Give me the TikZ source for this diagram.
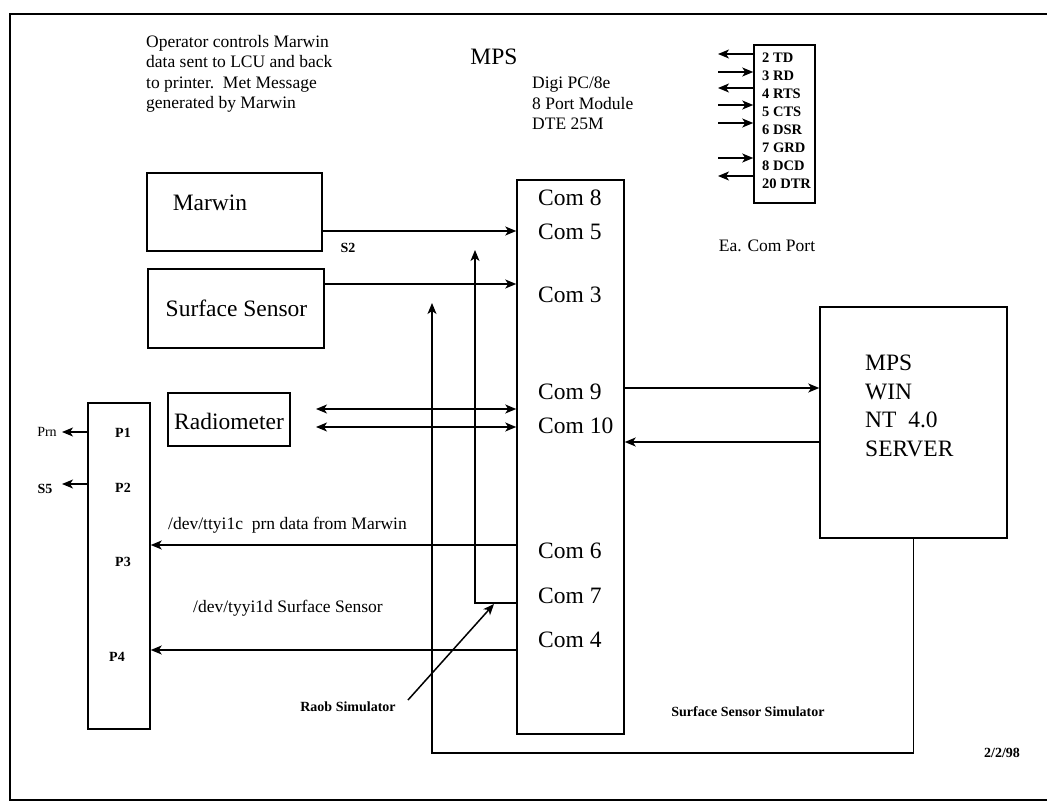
\documentclass[tikz,border=0pt]{standalone}
\usepackage{fontspec}
\setmainfont{Liberation Serif}
\usetikzlibrary{arrows.meta}
\begin{document}
\begin{tikzpicture}[x=1pt,y=-1pt,
  boxx/.style={draw, line width=1.5pt, inner sep=0pt},
  arr/.style={line width=1.5pt, -{Stealth[length=11pt,width=9pt,inset=3pt]}},
  darr/.style={line width=1.5pt, {Stealth[length=11pt,width=9pt,inset=3pt]}-{Stealth[length=11pt,width=9pt,inset=3pt]}},
  line/.style={line width=1.5pt},
  big/.style={font=\fontsize{23.5}{28.5}\selectfont, inner sep=0pt},
  med/.style={font=\fontsize{17.5}{20.5}\selectfont, inner sep=0pt},
  sml/.style={font=\bfseries\fontsize{14}{17}\selectfont, inner sep=0pt},
  pin/.style={font=\bfseries\fontsize{14.5}{18}\selectfont, inner sep=0pt, anchor=west}]
\useasboundingbox (0,0) rectangle (1047,803);
% frame
\coordinate (ftr) at (1047,14);
\coordinate (ftl) at (10,14);
\coordinate (fbl) at (10,800);
\coordinate (fbr) at (1047,800);
\draw[line width=1.8pt] (ftr) -- (ftl) -- (fbl) -- (fbr);

% top notes
\node[med, anchor=north west, align=left] (note) at (146,35) {Operator controls Marwin\\data sent to LCU and back\\to printer.\ \ Met Message\\generated by Marwin};
\node[big] (mpstitle) at (494,57) {MPS};
\node[med, anchor=north west, align=left] (digi) at (532,77) {Digi PC/8e\\8 Port Module\\DTE 25M};

% pin box
\node[boxx, minimum width=61pt, minimum height=158pt] (pinbox) at (784.5,124) {};
\node[pin] (p2) at (762,58) {2 TD};
\node[pin] (p3) at (762,76) {3 RD};
\node[pin] (p4) at (762,94) {4 RTS};
\node[pin] (p5) at (762,112) {5 CTS};
\node[pin] (p6) at (762,130) {6 DSR};
\node[pin] (p7) at (762,148) {7 GRD};
\node[pin] (p8) at (762,166) {8 DCD};
\node[pin] (p20) at (762,184) {20 DTR};
\coordinate (pa2) at (718,54);
\coordinate (pa3) at (718,72);
\coordinate (pa4) at (718,88);
\coordinate (pa5) at (718,105);
\coordinate (pa6) at (718,123);
\coordinate (pa8) at (718,158);
\coordinate (pa20) at (718,176);
\draw[arr] (pinbox.west |- pa2) -- (pa2);
\draw[arr] (pa3) -- (pinbox.west |- pa3);
\draw[arr] (pinbox.west |- pa4) -- (pa4);
\draw[arr] (pa5) -- (pinbox.west |- pa5);
\draw[arr] (pa6) -- (pinbox.west |- pa6);
\draw[arr] (pa8) -- (pinbox.west |- pa8);
\draw[arr] (pinbox.west |- pa20) -- (pa20);
\node[med] (eacom) at (767,246) {Ea. Com Port};

% left boxes
\node[boxx, minimum width=175pt, minimum height=78pt] (marwin) at (234.5,212) {};
\node[big] (marwintxt) at (210,203) {Marwin};
\node[boxx, minimum width=176pt, minimum height=79pt] (surf) at (236,308.5) {};
\node[big] (surftxt) at (236.5,308) {Surface Sensor};
\node[boxx, minimum width=122pt, minimum height=53pt] (radio) at (229,419.5) {};
\node[big] (radiotxt) at (229,421) {Radiometer};

% LCU panel
\node[boxx, minimum width=62pt, minimum height=326pt] (panel) at (119,566) {};
\node[sml] (P1) at (123,433) {P1};
\node[sml] (P2) at (123,488) {P2};
\node[sml] (P3) at (123,562) {P3};
\node[sml] (P4) at (117,657) {P4};
\node[sml, font=\fontsize{14}{17}\selectfont] (prn) at (47,432) {Prn};
\node[sml] (s5) at (45,489) {S5};
\coordinate (prntip) at (62,432);
\coordinate (s5tip) at (62,484);
\draw[arr] (panel.west |- prntip) -- (prntip);
\draw[arr] (panel.west |- s5tip) -- (s5tip);

% Com box
\node[boxx, minimum width=107pt, minimum height=554pt] (com) at (570.5,457) {};
\node[big, anchor=west] (c8) at (538,198) {Com 8};
\node[big, anchor=west] (c5) at (538,232) {Com 5};
\node[big, anchor=west] (c3) at (538,295) {Com 3};
\node[big, anchor=west] (c9) at (538,392) {Com 9};
\node[big, anchor=west] (c10) at (538,426) {Com 10};
\node[big, anchor=west] (c6) at (538,551) {Com 6};
\node[big, anchor=west] (c7) at (538,596) {Com 7};
\node[big, anchor=west] (c4) at (538,640) {Com 4};

% server
\node[boxx, minimum width=187pt, minimum height=231pt] (server) at (913.5,422.5) {};
\node[big, anchor=west, align=left] (servertxt) at (865,406) {MPS\\WIN\\NT\ \ 4.0\\SERVER};

% connectors
\coordinate (ym) at (0,231);
\coordinate (ys) at (0,284);
\draw[arr] (marwin.east |- ym) -- (com.west |- ym);
\node[sml] (s2) at (348,248) {S2};
\draw[arr] (surf.east |- ys) -- (com.west |- ys);

\coordinate (r1) at (316,409);
\coordinate (r2) at (316,427);
\draw[darr] (r1) -- (com.west |- r1);
\draw[darr] (r2) -- (com.west |- r2);

\coordinate (y9) at (0,388);
\coordinate (y10) at (0,442);
\draw[arr] (com.east |- y9) -- (server.west |- y9);
\draw[arr] (server.west |- y10) -- (com.east |- y10);

\coordinate (y6) at (0,545);
\coordinate (y4) at (0,650);
\draw[arr] (com.west |- y6) -- (panel.east |- y6);
\draw[arr] (com.west |- y4) -- (panel.east |- y4);
\node[med, anchor=west] (dev1) at (168,525) {/dev/ttyi1c\ \ prn data from Marwin};
\node[med, anchor=west] (dev2) at (193,608) {/dev/tyyi1d Surface Sensor};

% Com 7 loop
\coordinate (la) at (475,603);
\coordinate (latip) at (475,250);
\draw[arr] (com.west |- la) -- (la) -- (latip);

% Raob simulator
\coordinate (raobst) at (408,700);
\coordinate (raobtip) at (494,604);
\draw[arr] (raobst) -- (raobtip);
\node[sml] (raob) at (348,707) {Raob Simulator};

% Surface sensor simulator loop
\coordinate (sbl) at (432,753);
\coordinate (sbtip) at (432,303);
\draw[arr] (server.south) |- (sbl) -- (sbtip);
\node[sml] (sss) at (748,712) {Surface Sensor Simulator};

\node[sml] (date) at (1002,753) {2/2/98};
\end{tikzpicture}
\end{document}
